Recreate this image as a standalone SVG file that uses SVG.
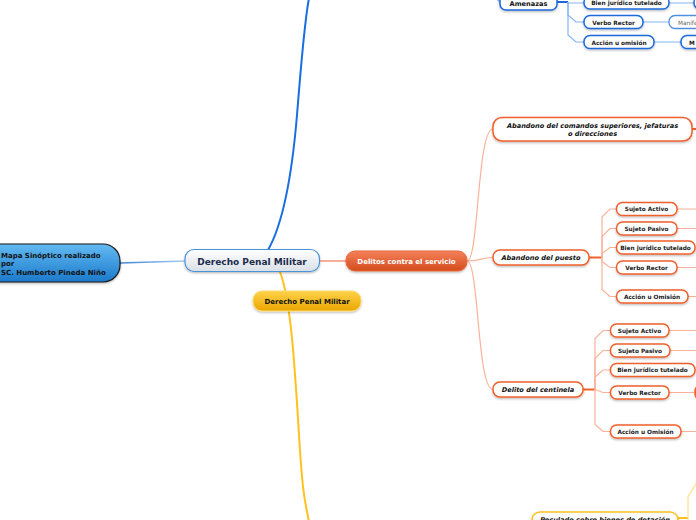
<svg xmlns="http://www.w3.org/2000/svg" width="696" height="520" viewBox="0 0 696 520">
<defs>
<linearGradient id="gMain" x1="0" y1="0" x2="0" y2="1"><stop offset="0" stop-color="#ffffff"/><stop offset="1" stop-color="#d9e0e6"/></linearGradient>
<linearGradient id="gLeft" x1="0" y1="0" x2="0" y2="1"><stop offset="0" stop-color="#62baf2"/><stop offset="1" stop-color="#1c7acb"/></linearGradient>
<linearGradient id="gOr" x1="0" y1="0" x2="0" y2="1"><stop offset="0" stop-color="#f5805a"/><stop offset="1" stop-color="#d44c1c"/></linearGradient>
<linearGradient id="gYe" x1="0" y1="0" x2="0" y2="1"><stop offset="0" stop-color="#ffd24a"/><stop offset="1" stop-color="#e9a600"/></linearGradient>
<linearGradient id="gLink" x1="0" y1="0" x2="1" y2="0"><stop offset="0" stop-color="#3f86d8"/><stop offset="1" stop-color="#a9ccf0"/></linearGradient>
<filter id="sh" x="-10%" y="-30%" width="120%" height="170%"><feDropShadow dx="0" dy="1.2" stdDeviation="0.9" flood-color="#000" flood-opacity="0.28"/></filter>
</defs>
<style>
text{font-family:"DejaVu Sans","Verdana",sans-serif;font-weight:bold;}
.c{text-anchor:middle;}
.bx{fill:#fff;stroke-width:1.5;filter:url(#sh);}
.ob{stroke:#f0602c;}
.bb{stroke:#1b69dc;}
.yb{stroke:#ffc21c;}
.s{font-size:5.8px;fill:#1a1a1a;}
.it{font-style:italic;font-size:6.6px;fill:#111;}
.lo{fill:none;stroke:#f9b29a;stroke-width:1.2;}
.lot{fill:none;stroke:#f0602c;stroke-width:2;}
.lb{fill:none;stroke:#86b6f2;stroke-width:1.2;}
.lbt{fill:none;stroke:#1b69dc;stroke-width:2;}
.ly{fill:none;stroke:#ffe08c;stroke-width:1.2;}
.lyt{fill:none;stroke:#ffc21c;stroke-width:2;}
</style>
<g id="connectors">
<path d="M268,250 C284,222 292,175 297,115 S304,25 309,-2" fill="none" stroke="#1a6ee0" stroke-width="2"/>
<path d="M280,272 C291,300 295,370 299,435 S305,500 309,522" fill="none" stroke="#ffc21c" stroke-width="2"/>
<path d="M120,263 L185,261" fill="none" stroke="url(#gLink)" stroke-width="1.5"/>
<path d="M320,261 L346,261" fill="none" stroke="#f39478" stroke-width="1.5"/>
<path class="lo" d="M467,261 C479,261 477,129 493,129"/>
<path class="lo" d="M467,261 C480,261 482,257.5 493,257.5"/>
<path class="lo" d="M467,261 C479,261 477,389.5 493,389.5"/>
<path class="lot" d="M692,129 H698"/>
<path class="lot" d="M589,257.5 H602"/>
<path class="lo" d="M602,257.5 V217 L610,209 H616"/>
<path class="lo" d="M602,257.5 V236.5 L610,228.5 H616"/>
<path class="lo" d="M602,257.5 V253.5 L610,247.5 H616"/>
<path class="lo" d="M602,257.5 V261.5 L610,267.5 H616"/>
<path class="lo" d="M602,257.5 V289.5 L610,296.5 H616"/>
<path class="lo" d="M677,209 H697 M677,228.5 H697 M677,267.5 H697 M688,296.5 H697"/>
<path class="lot" d="M583,389.5 H595"/>
<path class="lo" d="M595,389.5 V338.5 L603,330.5 H610"/>
<path class="lo" d="M595,389.5 V358.5 L603,350.5 H610"/>
<path class="lo" d="M595,389.5 V377 L603,370 H610"/>
<path class="lo" d="M595,389.5 L603,392.5 H610"/>
<path class="lo" d="M595,389.5 V424.5 L603,431.5 H610"/>
<path class="lo" d="M669,330.5 H697 M670,350.5 H697 M669,392.5 H695 M681,431.5 H697"/>
<path class="lb" d="M490,-6 L500,2"/>
<path class="lbt" d="M557,2 H568"/>
<path class="lb" d="M568,2 V3 H584"/>
<path class="lb" d="M568,2 V15 L576,22 H584"/>
<path class="lb" d="M568,2 V35 L576,42 H584"/>
<path class="lb" d="M669,3 H694 M643,22 H669 M654,42 H681"/>
<path class="lyt" d="M678,518 H688"/>
<path class="ly" d="M688,518 V497 L697,482 M688,518 V524"/>
</g>
<g id="node-mapa">
<rect x="-20" y="244" width="140" height="38" rx="17" fill="url(#gLeft)" stroke="#1a1a1a" stroke-width="1.2" filter="url(#sh)"/>
<text x="1" y="258" font-size="7px" fill="#111">Mapa Sinóptico realizado</text>
<text x="1" y="266" font-size="7px" fill="#111">por</text>
<text x="1" y="275" font-size="7px" fill="#111">SC. Humberto Pineda Niño</text>
</g>
<g id="node-main">
<rect x="185" y="249.5" width="134.5" height="22" rx="9" fill="url(#gMain)" stroke="#4a93d9" stroke-width="1.2" filter="url(#sh)"/>
<text class="c" x="252" y="264.5" font-size="9px" fill="#1c2b4d">Derecho Penal Militar</text>
</g>
<g id="node-delitos">
<rect x="346" y="251" width="121" height="20" rx="9" fill="url(#gOr)" stroke="#e8683a" stroke-width="1" filter="url(#sh)"/>
<text class="c" x="406.5" y="263.5" font-size="7px" fill="#fff">Delitos contra el servicio</text>
</g>
<g id="node-dpm2">
<rect x="253" y="291" width="108" height="20" rx="9" fill="url(#gYe)" stroke="#ffdb6e" stroke-width="1" filter="url(#sh)"/>
<text class="c" x="307" y="303.5" font-size="7px" fill="#111">Derecho Penal Militar</text>
</g>
<g id="node-comandos">
<rect class="bx ob" x="493" y="117.5" width="199" height="23.5" rx="9"/>
<text class="c it" x="592.5" y="127.5">Abandono del comandos superiores, jefaturas</text>
<text class="c it" x="592.5" y="135.5">o direcciones</text>
</g>
<g id="node-puesto">
<rect class="bx ob" x="493" y="250" width="96" height="15" rx="7"/>
<text class="c it" x="541" y="260">Abandono del puesto</text>
</g>
<g id="node-centinela">
<rect class="bx ob" x="493" y="382" width="90" height="15" rx="7"/>
<text class="c it" x="538" y="392">Delito del centinela</text>
</g>
<g id="node-p-sa"><rect class="bx ob" x="616.5" y="202.5" width="60.5" height="13" rx="6"/><text class="c s" x="646.5" y="211">Sujeto Activo</text></g>
<g id="node-p-sp"><rect class="bx ob" x="616.5" y="222" width="60.5" height="13" rx="6"/><text class="c s" x="646.5" y="230.5">Sujeto Pasivo</text></g>
<g id="node-p-bj"><rect class="bx ob" x="616.5" y="241" width="78.5" height="13" rx="6"/><text class="c s" x="655.5" y="249.5">Bien jurídico tutelado</text></g>
<g id="node-p-vr"><rect class="bx ob" x="616.5" y="261" width="60.5" height="13" rx="6"/><text class="c s" x="646.5" y="269.5">Verbo Rector</text></g>
<g id="node-p-ao"><rect class="bx ob" x="616.5" y="290" width="71.5" height="13" rx="6"/><text class="c s" x="652" y="298.5">Acción u Omisión</text></g>
<g id="node-c-sa"><rect class="bx ob" x="610.5" y="324" width="58.5" height="13" rx="6"/><text class="c s" x="639.5" y="332.5">Sujeto Activo</text></g>
<g id="node-c-sp"><rect class="bx ob" x="610.5" y="344" width="59.5" height="13" rx="6"/><text class="c s" x="640" y="352.5">Sujeto Pasivo</text></g>
<g id="node-c-bj"><rect class="bx ob" x="610.5" y="363.5" width="84.5" height="13" rx="6"/><text class="c s" x="652.5" y="372">Bien jurídico tutelado</text></g>
<g id="node-c-vr"><rect class="bx ob" x="610.5" y="386" width="58.5" height="13" rx="6"/><text class="c s" x="639.5" y="394.5">Verbo Rector</text></g>
<g id="node-c-ao"><rect class="bx ob" x="610.5" y="425" width="70.5" height="13" rx="6"/><text class="c s" x="645.5" y="433.5">Acción u Omisión</text></g>
<g id="node-c-vr-next"><rect x="695" y="385" width="20" height="15" rx="6" fill="#f26a38" stroke="#f0602c" stroke-width="1.5"/></g>
<g id="node-amenazas">
<rect class="bx bb" x="500" y="-6" width="57" height="16" rx="6"/>
<text class="c" x="528.5" y="6" font-size="6.6px" fill="#111">Amenazas</text>
</g>
<g id="node-a-bj"><rect class="bx bb" x="584" y="-4" width="85" height="13" rx="6"/><text class="c s" x="626.5" y="5">Bien jurídico tutelado</text></g>
<g id="node-a-vr"><rect class="bx bb" x="584" y="15.5" width="59" height="13" rx="6"/><text class="c s" x="613.5" y="24.5">Verbo Rector</text></g>
<g id="node-a-ao"><rect class="bx bb" x="584" y="35.5" width="70" height="13" rx="6"/><text class="c s" x="619" y="44.5">Acción u omisión</text></g>
<g id="node-a-bj-next"><rect class="bx bb" x="694" y="-4" width="30" height="13" rx="6"/></g>
<g id="node-a-vr-next"><rect x="669" y="15.5" width="50" height="13" rx="6" fill="#fff" stroke="#4f8fe4" stroke-width="1.3"/><text x="678" y="24.5" font-size="5.8px" font-weight="normal" style="font-weight:normal" fill="#666">Manife</text></g>
<g id="node-a-ao-next"><rect class="bx bb" x="681" y="35.5" width="40" height="13" rx="6"/><text class="s" x="689" y="44.5">M</text></g>
<g id="node-peculado">
<rect class="bx yb" x="532" y="512" width="146" height="24" rx="8"/>
<text class="c it" x="605" y="521.5" font-size="6.8px">Peculado sobre bienes de dotación</text>
</g>
</svg>
